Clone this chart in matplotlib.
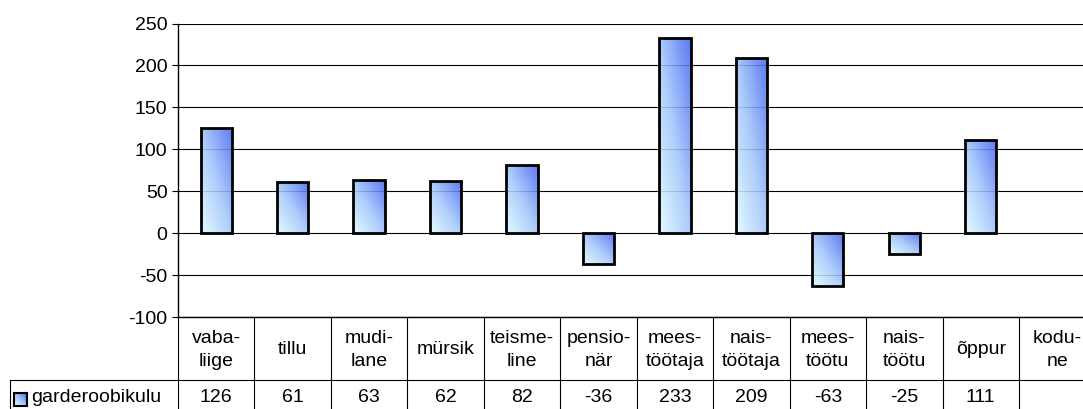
import numpy as np
import matplotlib
matplotlib.use("Agg")
import matplotlib.pyplot as plt
import matplotlib.transforms as mtransforms
from matplotlib.colors import LinearSegmentedColormap
from matplotlib.lines import Line2D

# chart data
categories = ["vaba-\nliige", "tillu", "mudi-\nlane", "mürsik", "teisme-\nline", "pensio-\nnär",
              "mees-\ntöötaja", "nais-\ntöötaja", "mees-\ntöötu", "nais-\ntöötu", "õppur", "kodu-\nne"]
values = [126, 61, 63, 62, 82, -36, 233, 209, -63, -25, 111, None]
series_name = "garderoobikulu"
yticks = [-100, -50, 0, 50, 100, 150, 200, 250]

W, H = 1083, 409
plt.rcParams['font.family'] = ['Liberation Sans', 'DejaVu Sans']
plt.rcParams['font.size'] = 14
plt.rcParams['axes.unicode_minus'] = False

fig = plt.figure(figsize=(W / 100, H / 100), dpi=100)
# plot area in pixels: left 178, top 23.5, bottom 317.3, 12 columns of ~76.45 px (cut at right edge)
ax = fig.add_axes([178 / W, 1 - 317.3 / H, 917.4 / W, 293.8 / H])

cmap = LinearSegmentedColormap.from_list("bar", ["#e2fbff", "#a0c4fb", "#4566f0"])
n = 64
gx, gy = np.meshgrid(np.linspace(0, 1, n), np.linspace(0, 1, n))
grad = (gx + gy) / 2

bar_w = 0.41
for i, v in enumerate(values):
    if v is None:
        continue
    patch = ax.bar(i, v, width=bar_w, facecolor='none', edgecolor='black', linewidth=2, zorder=3)[0]
    im = ax.imshow(grad, cmap=cmap, origin='lower', aspect='auto', alpha=0.88, zorder=2,
                   extent=[i - bar_w / 2, i + bar_w / 2, min(0, v), max(0, v)])
    im.set_clip_path(patch)

ax.set_xlim(-0.5, len(categories) - 0.5)
ax.set_ylim(-100, 250)
ax.set_yticks(yticks)
ax.set_xticks([])
ax.yaxis.grid(True, color='black', linewidth=0.8)
ax.set_axisbelow(True)
ax.tick_params(axis='y', length=4.5, width=0.8, pad=3)
for s in ['top', 'right']:
    ax.spines[s].set_visible(False)
ax.spines['left'].set_linewidth(1)
ax.spines['bottom'].set_linewidth(1)

# data table under the chart
blend = mtransforms.blended_transform_factory(ax.transData, fig.transFigure)
y_top = 1 - 317.3 / H
y_mid = 1 - 380 / H
y_bot = -0.05
lw = 0.8
fig.add_artist(Line2D([10 / W, 1.05], [y_mid, y_mid], color='black', lw=lw))
fig.add_artist(Line2D([10 / W, 10 / W], [y_mid, y_bot], color='black', lw=lw))
fig.add_artist(Line2D([178 / W, 178 / W], [y_top, y_bot], color='black', lw=lw))
for i in range(len(categories)):
    ax.add_artist(Line2D([i + 0.5, i + 0.5], [y_top, y_bot], transform=blend,
                         color='black', lw=lw, clip_on=False))
    ax.text(i, 1 - 350 / H, categories[i], transform=blend, ha='center', va='center',
            linespacing=1.45, clip_on=False)
    if values[i] is not None:
        ax.text(i, 1 - 397 / H, str(values[i]), transform=blend, ha='center', va='center',
                clip_on=False)

# legend key in the table
kax = fig.add_axes([14 / W, 1 - 406 / H, 13 / W, 13 / H])
kax.imshow(grad, cmap=cmap, origin='lower', aspect='auto')
kax.set_xticks([])
kax.set_yticks([])
for s in kax.spines.values():
    s.set_linewidth(1.5)
fig.text(31 / W, 1 - 398 / H, series_name, ha='left', va='center')

fig.savefig('out.png', dpi=100)
